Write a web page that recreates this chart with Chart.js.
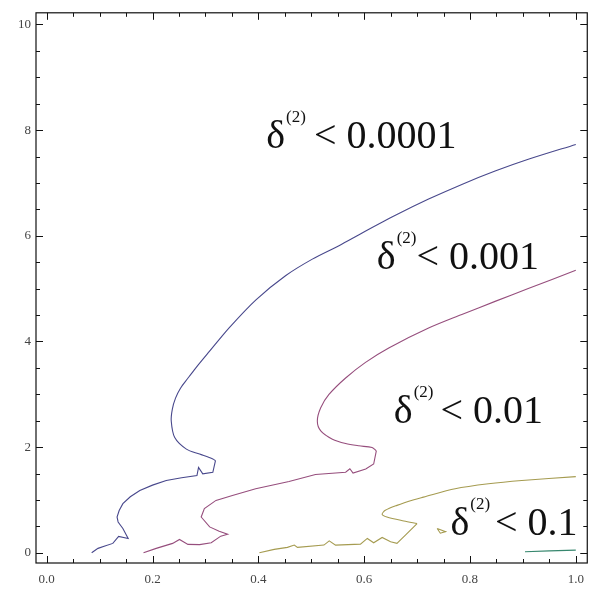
<!DOCTYPE html>
<html>
<head>
<meta charset="utf-8">
<script src="https://cdn.jsdelivr.net/npm/chart.js@4"></script>
<style>
  html, body { margin: 0; padding: 0; background: #fff; }
  #wrap { width: 593px; height: 590px; position: relative; }
</style>
</head>
<body>
<div id="wrap"><canvas id="c"></canvas></div>
<script>
// ---- data ----
const seriesNames = ['δ<0.0001', 'δ<0.001', 'δ<0.01', 'δ<0.01 loop', 'δ<0.1'];

const c1x = [0.085,0.097,0.110,0.125,0.136,0.154,0.144,0.135,0.133,0.137,0.144,0.158,0.176,0.200,0.226,0.255,0.284,0.287,0.295,0.314,0.319,0.314,0.289,0.264,0.242,0.2354,0.2375,0.2435,0.2529,0.2661,0.2812,0.3075,0.3452,0.3955,0.4520,0.5021,0.5524,0.5962,0.6591,0.7218,0.7846,0.8475,0.9102,1.000];
const c1y = [0,0.083,0.126,0.177,0.310,0.271,0.459,0.583,0.677,0.800,0.929,1.060,1.179,1.280,1.367,1.420,1.461,1.615,1.493,1.523,1.743,1.774,1.868,1.962,2.180,2.494,2.720,2.927,3.115,3.293,3.491,3.810,4.261,4.788,5.248,5.558,5.812,6.053,6.387,6.694,6.972,7.224,7.447,7.729];

const c2x = [0.183,0.207,0.238,0.251,0.267,0.289,0.311,0.329,0.342,0.326,0.308,0.292,0.298,0.320,0.351,0.395,0.458,0.508,0.565,0.573,0.579,0.603,0.618,0.623,0.615,0.590,0.565,0.540,0.518,0.5115,0.5179,0.5335,0.5650,0.6026,0.6465,0.7218,0.7846,0.8475,0.9102,1.000];
const c2y = [0,0.083,0.177,0.252,0.158,0.154,0.188,0.314,0.352,0.408,0.489,0.677,0.835,0.991,1.085,1.211,1.350,1.480,1.523,1.590,1.508,1.586,1.680,1.930,1.992,2.024,2.068,2.150,2.306,2.494,2.744,2.996,3.308,3.603,3.876,4.252,4.509,4.758,5.000,5.346];

const c3x = [0.402,0.430,0.455,0.468,0.474,0.524,0.534,0.546,0.593,0.606,0.618,0.634,0.650,0.662,0.678,0.700,0.675,0.643,0.634,0.640,0.662,0.694,0.712,0.772,0.835,0.898,1.000];
const c3y = [0,0.064,0.102,0.145,0.102,0.145,0.226,0.145,0.164,0.271,0.188,0.289,0.207,0.177,0.333,0.553,0.602,0.677,0.727,0.803,0.897,1.004,1.053,1.211,1.305,1.367,1.440];

const c3loopX = [0.738,0.754,0.744,0.738];
const c3loopY = [0.460,0.400,0.370,0.460];

const c4x = [0.904,0.950,1.000];
const c4y = [0.020,0.035,0.050];

const xTicks = [0, 0.2, 0.4, 0.6, 0.8, 1.0];
const xTickLabels = ['0.0', '0.2', '0.4', '0.6', '0.8', '1.0'];
const yTicks = [0, 2, 4, 6, 8, 10];
const yTickLabels = ['0', '2', '4', '6', '8', '10'];

const labelMain = ['0.0001', '0.001', '0.01', '0.1'];

// ---- presentation ----
const colors = ['rgb(72,72,140)', 'rgb(150,78,125)', 'rgb(165,155,80)', 'rgb(165,155,80)', 'rgb(55,135,110)'];
// index where each curve turns from the jagged part into the smooth arc
const smoothFrom = [20, 23, 15, null, null];
const labelPos = [
  { x: 0.415, y: 7.66, gap: 8 },
  { x: 0.624, y: 5.376, gap: 0 },
  { x: 0.656, y: 2.462, gap: 7 },
  { x: 0.763, y: 0.333, gap: 5 }
];

function pts(xs, ys) { return xs.map((x, i) => ({ x: x, y: ys[i] })); }
const seriesData = [pts(c1x, c1y), pts(c2x, c2y), pts(c3x, c3y), pts(c3loopX, c3loopY), pts(c4x, c4y)];

const datasets = [];
seriesData.forEach((d, i) => {
  const base = {
    label: seriesNames[i],
    showLine: true,
    borderColor: colors[i],
    backgroundColor: colors[i],
    borderWidth: 1.1,
    pointRadius: 0,
    fill: false
  };
  const k = smoothFrom[i];
  if (k === null) {
    datasets.push(Object.assign({}, base, { data: d, tension: 0 }));
  } else {
    datasets.push(Object.assign({}, base, { data: d.slice(0, k + 1), tension: 0 }));
    datasets.push(Object.assign({}, base, { data: d.slice(k), tension: 0.3 }));
  }
});

const framePlugin = {
  id: 'frame',
  beforeDraw(chart) {
    const ctx = chart.ctx;
    ctx.save();
    ctx.fillStyle = '#fff';
    ctx.fillRect(0, 0, chart.width, chart.height);
    ctx.restore();
  },
  afterDatasetsDraw(chart) {
    const ctx = chart.ctx;
    const a = chart.chartArea;
    const xs = chart.scales.x, ys = chart.scales.y;
    ctx.save();
    ctx.strokeStyle = '#111';
    ctx.lineWidth = 1.2;
    ctx.strokeRect(a.left, a.top, a.right - a.left, a.bottom - a.top);
    ctx.lineWidth = 1;
    ctx.beginPath();
    for (let k = 0; k <= 20; k++) {
      const v = k * 0.05;
      const px = Math.round(xs.getPixelForValue(v)) + 0.5;
      const len = (k % 4 === 0) ? 7 : 4;
      ctx.moveTo(px, a.bottom); ctx.lineTo(px, a.bottom - len);
      ctx.moveTo(px, a.top); ctx.lineTo(px, a.top + len);
    }
    for (let k = 0; k <= 20; k++) {
      const v = k * 0.5;
      const py = Math.round(ys.getPixelForValue(v)) + 0.5;
      const len = (k % 4 === 0) ? 7 : 4;
      ctx.moveTo(a.left, py); ctx.lineTo(a.left + len, py);
      ctx.moveTo(a.right, py); ctx.lineTo(a.right - len, py);
    }
    ctx.stroke();

    ctx.fillStyle = '#111';
    ctx.textBaseline = 'alphabetic';
    ctx.textAlign = 'left';
    labelPos.forEach((p, i) => {
      const x0 = xs.getPixelForValue(p.x);
      const y0 = ys.getPixelForValue(p.y);
      ctx.font = '40px "Liberation Serif", "Times New Roman", serif';
      ctx.fillText('δ', x0, y0);
      const w1 = ctx.measureText('δ').width;
      ctx.font = '17px "Liberation Serif", "Times New Roman", serif';
      ctx.fillText('(2)', x0 + w1 + 1, y0 - 26);
      const w2 = ctx.measureText('(2)').width;
      ctx.font = '40px "Liberation Serif", "Times New Roman", serif';
      ctx.fillText('< ' + labelMain[i], x0 + w1 + 1 + w2 + p.gap, y0);
    });
    ctx.restore();
  }
};

new Chart(document.getElementById('c'), {
  type: 'scatter',
  data: { datasets: datasets },
  options: {
    responsive: true,
    maintainAspectRatio: false,
    animation: false,
    layout: { padding: { top: 9, right: 4, left: 0, bottom: 0 } },
    plugins: { legend: { display: false }, tooltip: { enabled: false } },
    scales: {
      x: {
        type: 'linear',
        min: -0.0202,
        max: 1.0217,
        grid: { display: false, drawTicks: false },
        border: { display: false },
        afterBuildTicks: (s) => { s.ticks = xTicks.map(v => ({ value: v })); },
        afterFit: (s) => { s.height = 27; },
        ticks: {
          autoSkip: false,
          maxRotation: 0,
          padding: 9,
          color: '#444',
          font: { family: '"Liberation Serif", serif', size: 13 },
          callback: (v, i) => xTickLabels[i]
        }
      },
      y: {
        type: 'linear',
        min: -0.194,
        max: 10.22,
        grid: { display: false, drawTicks: false },
        border: { display: false },
        afterBuildTicks: (s) => { s.ticks = yTicks.map(v => ({ value: v })); },
        afterFit: (s) => { s.width = 36; },
        ticks: {
          autoSkip: false,
          padding: 5,
          color: '#444',
          font: { family: '"Liberation Serif", serif', size: 13 },
          callback: (v, i) => yTickLabels[i]
        }
      }
    }
  },
  plugins: [framePlugin]
});
</script>
</body>
</html>
